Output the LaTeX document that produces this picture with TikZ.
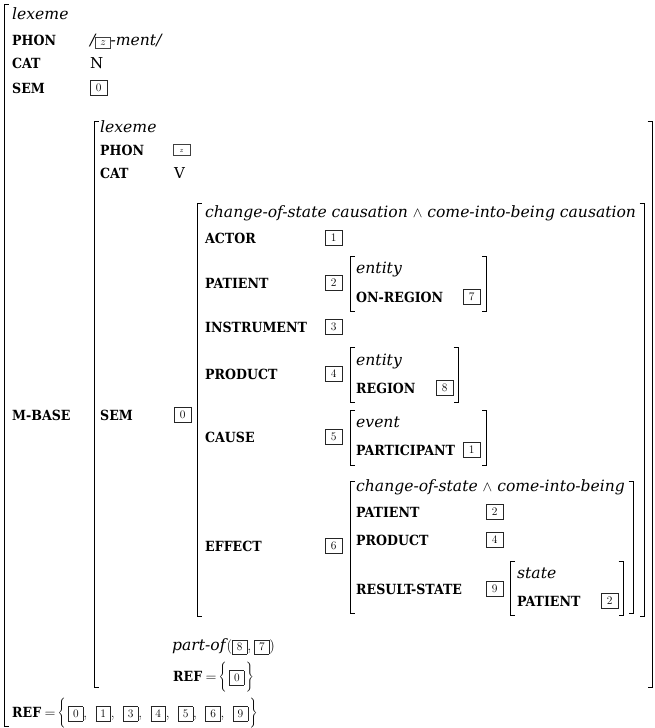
\documentclass[tikz,border=0pt]{standalone}
\usepackage[no-math]{fontspec}
\setmainfont{DejaVu Serif}
\newfontfamily\lmfont{Latin Modern Roman}
\newfontfamily\attrfont{DejaVu Serif Condensed}
% boxed structure-sharing tag used inside running text
\newcommand\tg[1]{{\setlength\fboxsep{0pt}\setlength\fboxrule{0.6pt}%
  \color{black!85}\fbox{\makebox[14pt]{\rule[-3.5pt]{0pt}{13.5pt}\color{black}\lmfont\mdseries\upshape\fontsize{11.5}{13}\selectfont #1}}}}
% small tag for the phonological variable
\newcommand\ztg[1][14pt]{{\setlength\fboxsep{0pt}\setlength\fboxrule{0.6pt}%
  \color{black!75}\fbox{\makebox[#1]{\rule[-2.5pt]{0pt}{10.5pt}\color{black}$\scriptstyle z$}}}}
% square brackets: x, top, bottom
\newcommand\LBr[3]{\draw[brk] (#1+4.5,#2) -- (#1,#2) -- (#1,#3) -- (#1+4.5,#3);}
\newcommand\RBr[3]{\draw[brk] (#1-4.5,#2) -- (#1,#2) -- (#1,#3) -- (#1-4.5,#3);}
% separators between tags in a set and in an argument list
\newcommand\setsep{,\hspace{8.5pt}}
\newcommand\argsep{,\hspace{3pt}}
% "= {" opening a set of tags
\newcommand\seteq{\lmfont\mdseries\fontsize{15}{17}\selectfont\hspace{3.5pt}$=$\hspace{2pt}$\Bigg\{$\kern2.5pt}
\newcommand\setend{\kern1.5pt$\Bigg\}$}
\begin{document}
\begin{tikzpicture}[x=1pt,y=-1pt,
  txt/.style={anchor=west, inner sep=0pt, text height=11pt, text depth=0pt,
              font=\fontsize{15}{17}\selectfont},
  typ/.style={txt, font=\fontsize{15.6}{17}\selectfont\itshape},
  attr/.style={anchor=west, inner sep=0pt, text height=10pt, text depth=0pt,
               font=\attrfont\fontsize{14}{16}\selectfont\bfseries},
  tag/.style={draw=black!85, line width=0.6pt, anchor=west, minimum width=17pt,
              minimum height=15pt, inner sep=0pt,
              font=\lmfont\fontsize{11.5}{13}\selectfont},
  brk/.style={line width=0.9pt}
]
\useasboundingbox (0,0) rectangle (654,728);

% ---- outer lexeme ----
\LBr{4}{4}{726}
\node[typ]  (lx)    at (12,14)  {lexeme};
\node[attr] (phon)  at (12,40)  {PHON};
\node[typ]  (phonv) at (90,40)  {/\ztg-ment/};
\node[attr] (cat)   at (12,63)  {CAT};
\node[txt]  (catv)  at (90,63)  {N};
\node[attr] (sem)   at (12,88)  {SEM};
\node[tag]  (semv)  at (90,88)  {0};
\node[attr] (mbase) at (12,415) {M-BASE};
\node[attr] (ref)   at (12,712)
  {REF\seteq\tg{0}\setsep\tg{1}\setsep\tg{3}\setsep\tg{4}\setsep\tg{5}\setsep\tg{6}\setsep\tg{9}\setend};

% ---- base lexeme ----
\LBr{94}{121}{687}
\RBr{652}{121}{687}
\node[typ]  (blx)   at (100,127) {lexeme};
\node[attr] (bphon) at (100,150) {PHON};
\node[anchor=west, inner sep=0pt] (bphonv) at (173,150) {\ztg[16pt]};
\node[attr] (bcat)  at (100,173) {CAT};
\node[txt]  (bcatv) at (174,173) {V};
\node[attr] (bsem)  at (100,415) {SEM};
\node[tag]  (bsemv) at (174,415) {0};
\node[typ]  (partof) at (172,645)
  {part-of\kern1pt\lmfont\upshape$($\tg{8}\argsep\tg{7}$)$};
\node[attr] (bref)  at (173,676)
  {REF\seteq\tg{0}\setend};

% ---- causation event ----
\LBr{197}{203}{616}
\RBr{644}{203}{616}
\node[typ]  (cs)   at (205,212) {change-of-state causation $\wedge$ come-into-being causation};
\node[attr] (act)  at (205,238) {ACTOR};
\node[tag]  (actv) at (325,238) {1};
\node[attr] (pat)  at (205,283) {PATIENT};
\node[tag]  (patv) at (325,283) {2};
\node[attr] (ins)  at (205,327) {INSTRUMENT};
\node[tag]  (insv) at (325,327) {3};
\node[attr] (prd)  at (205,374) {PRODUCT};
\node[tag]  (prdv) at (325,374) {4};
\node[attr] (cau)  at (205,437) {CAUSE};
\node[tag]  (cauv) at (325,437) {5};
\node[attr] (eff)  at (205,546) {EFFECT};
\node[tag]  (effv) at (325,546) {6};

% patient entity
\LBr{350.5}{256}{311}
\RBr{486.5}{256}{311}
\node[typ]  (pe)   at (356,268) {entity};
\node[attr] (onr)  at (356,297) {ON-REGION};
\node[tag]  (onrv) at (463,297) {7};

% product entity
\LBr{350.5}{347}{402}
\RBr{458}{347}{402}
\node[typ]  (qe)   at (356,360) {entity};
\node[attr] (reg)  at (356,388) {REGION};
\node[tag]  (regv) at (436,388) {8};

% cause event
\LBr{350.5}{410}{465}
\RBr{486.5}{410}{465}
\node[typ]  (ev)   at (356,422) {event};
\node[attr] (par)  at (356,450) {PARTICIPANT};
\node[tag]  (parv) at (463,450) {1};

% effect
\LBr{350.5}{481}{613}
\RBr{633}{481}{613}
\node[typ]  (ch)    at (356,486) {change-of-state $\wedge$ come-into-being};
\node[attr] (epat)  at (356,512) {PATIENT};
\node[tag]  (epatv) at (486,512) {2};
\node[attr] (eprd)  at (356,540) {PRODUCT};
\node[tag]  (eprdv) at (486,540) {4};
\node[attr] (res)   at (356,589) {RESULT-STATE};
\node[tag]  (resv)  at (486,589) {9};

% result state
\LBr{510.5}{561}{615}
\RBr{623}{561}{615}
\node[typ]  (st)    at (517,573) {state};
\node[attr] (spat)  at (517,601) {PATIENT};
\node[tag]  (spatv) at (601,601) {2};
\end{tikzpicture}
\end{document}
